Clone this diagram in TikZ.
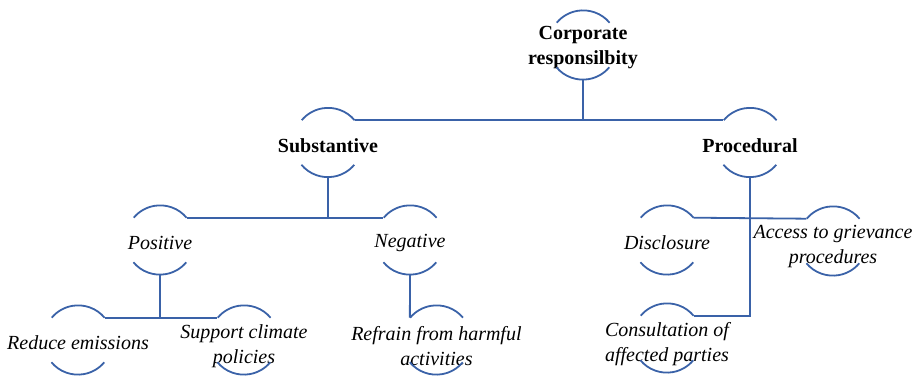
\documentclass[tikz,border=0pt]{standalone}
\usepackage{fontspec}
\setmainfont{Liberation Serif}
\newfontfamily\treefont{Liberation Serif}
\usetikzlibrary{positioning}
\definecolor{arcblue}{RGB}{58,98,168}

\begin{document}
\begin{tikzpicture}[x=1pt, y=1pt,
                      every node/.style = {shape=circle, minimum size=69pt,
                        inner sep=0pt},
                      head/.style = {label={[name text, font=\treefont\bfseries]center:#1}},
                      leaf/.style = {label={[name text, font=\treefont\itshape]center:#1}},
                      name text/.style = {shape=rectangle, align=center,
                        inner sep=0pt, minimum size=0pt, yshift=-3pt},
                      low/.style = {label={[name text, yshift=-3pt, font=\treefont\itshape]center:#1}},
                      link/.style = {draw=arcblue, line width=1.8pt}]
                      \useasboundingbox (0,0) rectangle (920,378);
                      \fontsize{20}{25}\selectfont
                      % top of the tree
                      \node[head={Corporate\\responsilbity}] (corp) at (583,333) {};
                      \node[head={Substantive}] (subst) at (328,235.5) {};
                      \node[head={Procedural}] (proc) at (750,235.5) {};
                      % substantive side
                      \node[leaf={Positive}] (posit) at (160,138) {};
                      \node[leaf={Negative}] (negat) at (410,138) {};
                      \node[leaf={Reduce emissions}] (reduce) at (78,38) {};
                      \node[low={Support climate\\policies}] (support) at (244,38) {};
                      \node[low={Refrain from harmful\\activities}] (refrain) at (436.43,38) {};
                      % procedural side
                      \node[leaf={Disclosure}] (disclo) at (667,138) {};
                      \node[low={Access to grievance\\procedures}] (access) at (833,137) {};
                      \node[low={Consultation of\\affected parties}] (consult) at (667,40) {};
                      % arcs round every node
                      \foreach \n in {corp,subst,proc,posit,negat,reduce,support,
                                      refrain,disclo,access,consult}
                        \draw[link] (\n.40) arc[start angle=40, end angle=140, radius=34.5pt]
                                    (\n.220) arc[start angle=220, end angle=320, radius=34.5pt];
                      % connectors
                      \draw[link] (subst.40) -- (proc.140);
                      \draw[link] (corp.south) -- (corp.south |- subst.40);
                      \draw[link] (posit.40) -- (negat.140);
                      \draw[link] (subst.south) -- (subst.south |- posit.40);
                      \draw[link] (reduce.40) -- (support.140);
                      \draw[link] (posit.south) -- (posit.south |- reduce.40);
                      \draw[link] (negat.south) -- (refrain.140);
                      \draw[link] (disclo.40) -- (access.140);
                      \draw[link] (proc.south) |- (consult.40);
                    \end{tikzpicture}
\end{document}
